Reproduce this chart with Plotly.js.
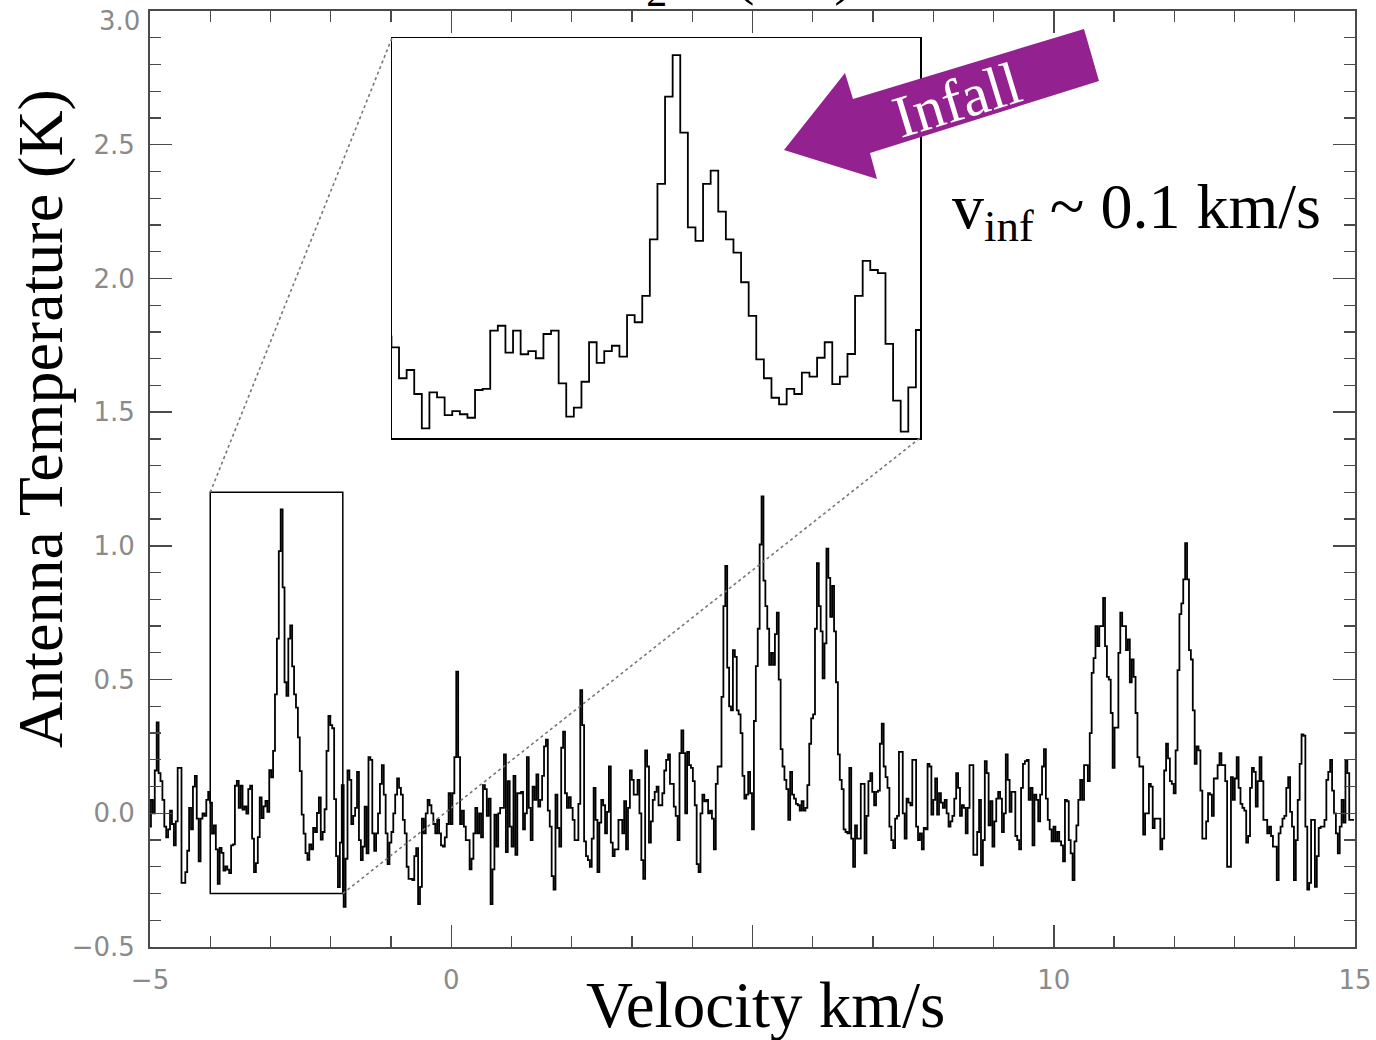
<!DOCTYPE html>
<html>
<head>
<meta charset="utf-8">
<script src="https://cdn.plot.ly/plotly-3.0.1.min.js"></script>
<style>html,body{margin:0;padding:0;background:#fff;}#chart{width:1376px;height:1040px;}</style>
</head>
<body>
<div id="chart"></div>
<script>
// ---- spectral axis (channel grid) ----
const v0 = -5.0;       // velocity of first channel (km/s)
const dv = 0.03167;    // channel width (km/s)

// ---- antenna temperature (K), read channel by channel from the figure ----
const taSeg1 = [-0.05,0.05,0.0,0.16,0.34,0.15,0.12,0.05,-0.05,-0.09,-0.06,0.01,-0.04,-0.12,-0.03,
  0.17,0.17,-0.26,-0.26,-0.22,-0.14,0.02,-0.06,0.10,0.14,-0.02,-0.18,-0.02,0.0,-0.01,0.05,0.08];
const taSeg2 = [0.04,-0.076,-0.045,-0.135,-0.264,-0.129,-0.148,-0.214,-0.199,-0.211,
  -0.224,-0.12,-0.116,0.103,0.121,0.02,0.103,0.014,0.026,-0.001,
  0.09,0.103,-0.095,-0.22,-0.186,-0.089,0.059,-0.018,0.026,0.046,
  0.005,0.161,0.134,0.233,0.445,0.653,0.98,1.136,0.845,0.49,
  0.439,0.653,0.703,0.549,0.445,0.395,0.284,0.158,-0.005,-0.076,
  -0.149,-0.174,-0.116,-0.135,-0.055,-0.07,0.001,0.059,-0.098,-0.07,
  0.015,0.233,0.364,0.33,0.318,0.053,-0.16,-0.276,-0.11,0.105];
const taSeg3 = [-0.35,-0.17,0.16,0.125,-0.04,-0.01,0.02,0.155,-0.10,-0.175,
  -0.125,0.025,-0.15,0.21,0.20,-0.075,-0.14,-0.075,0,0.11,
  0.18,0.07,-0.075,-0.19,-0.11,-0.07,0,0.07,0.13,0.095,
  0.07,-0.025,-0.075,-0.2,-0.245,-0.245,-0.25,-0.16,-0.13,-0.34,
  -0.275,-0.02,-0.075,0,0.05,0.03,0,-0.04,-0.075,-0.025,
  -0.075,-0.12,-0.125,-0.09,-0.04,0.075,-0.04,0.075,0.21,0.53,
  0.21,-0.04,0.01,-0.05,-0.10,-0.10,-0.21,-0.17,-0.075,0.02,
  -0.075,0,-0.09,0.105,0.09,-0.01,0.055,-0.34,-0.21,-0.005,
  -0.125,0,0.02,0.02,0.22,-0.145,0.12,-0.05,-0.125,0.14,
  -0.155,0.075,0.075,0.08,-0.06,0,0.21,0.02,-0.10,0.10,
  0.05,0.145,0.025];
const taSeg4 = [0.05,0.14,0.25,0.275,0.01,-0.05,-0.235,-0.285,0.07,-0.055,
  -0.125,0.245,0.305,0.075,0.02,0.06,0.02,-0.025,-0.10,-0.10,
  0.035,0.46,0.33,-0.105,-0.16,-0.175,-0.20,-0.095,0.095,
  -0.025,-0.22,-0.035,0.05,0.03,-0.075,0.005,0.175,-0.11,-0.16,
  -0.135,-0.135,-0.025,-0.025,-0.075,0.045,-0.135,0.02,0.16,0.125,
  0.07,0.07,0.125,0,-0.175,-0.245,0.235,0.175,-0.11,
  -0.03,0.05,0.08,0.10,0.03,0.03,0.075,0.16,0.20,0.22,
  0.11,0.11,0.025,-0.01,-0.10,0.225,0.31,0.225,0,
  0.23,0.18,0.17,0.12,0.03,-0.19,-0.22,0,0.07,0.045,
  0.05,0,0.01,-0.02,-0.135,0.11,0.175,0.175,0.435,0.775,
  0.925,0.545,0.40,0.385,0.61,0.585,0.385,0.37];
const taSeg5 = [0.30,0.14,0.055,0.07,0.155,0.075,-0.06,0.345,0.55,0.69,
  1.005,1.185,0.87,0.775,0.69,0.555,0.6,0.555,0.67,0.75,
  0.5,0.24,0.175,0.125,0.09,-0.025,0.155,0.07,0.055,
  0.035,0.03,0.01,0.045,0.01,0.02,0.105,0.26,0.355,0.37,
  0.69,0.935,0.775,0.68,0.505,0.635,0.99,0.88,0.735,0.85,
  0.68,0.49,0.22,0.125,0.09,-0.06,-0.07,-0.075,0.17,
  -0.095,-0.20,-0.045,-0.095,-0.095,0.11,0.11,-0.15,-0.01,0.12,
  0.15,0.08,0.03,0.08,0.085,0.26,0.335,0.175,0.135,0.095,
  -0.05,-0.10,-0.13,-0.02,-0.01,0.23,0.23,0,-0.095,
  0.055,0.04,0.03,0.2,0.2,-0.05,-0.10,-0.075,-0.135,-0.055,
  -0.06,0.185,0.175,-0.005,0.05,0.13,-0.005,0.075];
const taSeg6 = [0.04,0.02,0.05,0,-0.05,-0.03,-0.01,0.055,0.15,0.095,
  -0.01,0.03,0.02,-0.075,0.02,0.18,0.18,-0.155,-0.155,
  -0.07,0.05,-0.195,-0.10,0.195,0.15,-0.045,0.045,-0.125,-0.03,
  0.055,0.08,0.055,-0.07,0,0.22,0.125,0.005,0.08,
  0.08,-0.085,-0.10,-0.135,0.095,0.185,0.195,0.20,0.05,0.095,
  -0.12,0.07,0.05,-0.03,0.07,0.175,0.24,0.055,-0.025,-0.06,
  -0.105,-0.05,-0.105,-0.07,-0.105,-0.12,-0.18,0.05,0.045,-0.10,
  -0.15,-0.25,-0.105,-0.045,0.05,0.125,0.05,0.18,0.18,
  0.12,0.30,0.525,0.58,0.70,0.625,0.70,0.70,0.805,0.625,
  0.51,0.50,0.375,0.17,0.32,0.32,0.60,0.75,0.70,0.70,
  0.61,0.65,0.49,0.575,0.51,0.375,0.21,0.175];
const taSeg7 = [0.175,-0.08,0,0,0.11,0.10,-0.055,-0.02,-0.02,-0.02,
  -0.135,-0.095,0.16,0.26,0.205,0.12,0.11,0.075,0.235,0.535,
  0.745,0.785,0.875,1.01,0.875,0.61,0.575,0.385,0.185,0.25,
  0.235,0.085,-0.095,-0.095,-0.03,0.075,0.07,-0.01,0.13,0.13,
  0.18,0.225,0.18,0.18,0.12,-0.20,-0.20,0.135,0.05,0.13,
  0.21,0.095,0.035,0.02,0.01,-0.11,-0.085,0.095,0.17,
  0.155,0.025,0.12,0.21,0.12,-0.025,-0.025,-0.075,-0.05,
  -0.085,-0.125,-0.125,-0.25,-0.075,-0.05,-0.02,-0.01,0.095,0.135,
  0.005,-0.05,-0.25,-0.10,0.05,0.185,0.295,0.29,-0.05,-0.285,
  -0.26,-0.025,-0.025,-0.275,-0.16,-0.055,-0.05,-0.05,-0.025,
  0.125,0.155,0.20,0.085,0,-0.075,-0.15,-0.05,0.05,-0.035,
  0.20,0.15,-0.025,-0.025,-0.025];

const ta = [].concat(taSeg1, taSeg2, taSeg3, taSeg4, taSeg5, taSeg6, taSeg7);
const vel = ta.map((_, i) => +(v0 + i * dv).toFixed(4));

// ---- axis settings ----
const xRange = [-5, 15];
const yRange = [-0.5, 3.0];
const xTickVals = [-5, 0, 5, 10, 15];
const xTickText = ['\u22125', '0', '', '10', '15'];
const yTickVals = [-0.5, 0, 0.5, 1.0, 1.5, 2.0, 2.5, 3.0];
const yTickText = ['\u22120.5', '0.0', '0.5', '1.0', '1.5', '2.0', '2.5', ''];
const yTopLabel = '3.0';      // top label, drawn just inside the page edge
const zoomX = [-4, -1.8];     // zoomed window (km/s)
const zoomY = [-0.3, 1.2];    // zoomed window (K)

// ---- page geometry (pixels) ----
const W = 1376, H = 1040;
const M = {l: 150, r: 21, t: 11, b: 93};
const PW = W - M.l - M.r, PH = H - M.t - M.b;
const insetPx = {left: 392, right: 920, top: 38, bottom: 438};
const px2x = p => (p - M.l) / PW;
const py2y = p => (M.t + PH - p) / PH;
const d2px = x => (x - xRange[0]) / (xRange[1] - xRange[0]);
const d2py = y => (y - yRange[0]) / (yRange[1] - yRange[0]);

const insetDomX = [px2x(insetPx.left), px2x(insetPx.right)];
const insetDomY = [py2y(insetPx.bottom), py2y(insetPx.top)];

// arrow outline (pixels)
const arrowPts = [[784,150],[845,73],[853,99],[1084,29],[1099,81],[870,153],[877,179]];
const arrowPath = arrowPts.map((p, i) => (i ? 'L' : 'M') + px2x(p[0]).toFixed(5) + ',' + py2y(p[1]).toFixed(5)).join(' ') + ' Z';

const tickFont = {family: 'DejaVu Sans', size: 26, color: '#8a8a8a'};
const serif = 'Liberation Serif, Times New Roman, serif';

const traces = [
  {x: vel, y: ta, type: 'scatter', mode: 'lines', xaxis: 'x', yaxis: 'y',
   line: {shape: 'hvh', color: '#000', width: 1.8}, hoverinfo: 'skip'},
  {x: vel, y: ta, type: 'scatter', mode: 'lines', xaxis: 'x2', yaxis: 'y2',
   line: {shape: 'hvh', color: '#000', width: 1.8}, hoverinfo: 'skip'}
];

const axLine = '#4a4a4a';
const layout = {
  width: W, height: H,
  margin: {l: M.l, r: M.r, t: M.t, b: M.b, pad: 0},
  paper_bgcolor: '#fff', plot_bgcolor: '#fff',
  showlegend: false,
  xaxis: {
    range: xRange, tickmode: 'array', tickvals: xTickVals, ticktext: xTickText,
    ticks: 'inside', ticklen: 22, tickwidth: 1.5, tickcolor: axLine,
    minor: {tickmode: 'linear', tick0: 0, dtick: 1, ticks: 'inside', ticklen: 11, tickwidth: 1.3, tickcolor: axLine},
    showline: true, mirror: 'allticks', linecolor: axLine, linewidth: 2,
    showgrid: false, zeroline: false, tickfont: tickFont, ticklabelstandoff: 9,
    ticklabeloverflow: 'allow'
  },
  yaxis: {
    range: yRange, tickmode: 'array', tickvals: yTickVals, ticktext: yTickText,
    ticks: 'inside', ticklen: 22, tickwidth: 1.5, tickcolor: axLine,
    minor: {tickmode: 'linear', tick0: 0, dtick: 0.1, ticks: 'inside', ticklen: 11, tickwidth: 1.3, tickcolor: axLine},
    showline: true, mirror: 'allticks', linecolor: axLine, linewidth: 2,
    showgrid: false, zeroline: false, tickfont: tickFont, ticklabelstandoff: 8,
    ticklabeloverflow: 'allow'
  },
  xaxis2: {domain: insetDomX, anchor: 'y2', range: zoomX, showline: true, mirror: true,
    linecolor: '#000', linewidth: 1.5, ticks: '', showticklabels: false, showgrid: false, zeroline: false},
  yaxis2: {domain: insetDomY, anchor: 'x2', range: zoomY, showline: true, mirror: true,
    linecolor: '#000', linewidth: 1.5, ticks: '', showticklabels: false, showgrid: false, zeroline: false},
  shapes: [
    {type: 'rect', xref: 'x', yref: 'y', x0: zoomX[0], x1: zoomX[1], y0: zoomY[0], y1: zoomY[1],
     line: {color: '#000', width: 1.5}},
    {type: 'line', xref: 'paper', yref: 'paper', x0: d2px(zoomX[0]), y0: d2py(zoomY[1]), x1: insetDomX[0], y1: insetDomY[1],
     line: {color: '#777', width: 1.6, dash: 'dot'}},
    {type: 'line', xref: 'paper', yref: 'paper', x0: d2px(zoomX[1]), y0: d2py(zoomY[0]), x1: insetDomX[1], y1: insetDomY[0],
     line: {color: '#777', width: 1.6, dash: 'dot'}},
    {type: 'path', xref: 'paper', yref: 'paper', path: arrowPath, fillcolor: '#93218f', line: {width: 0}}
  ],
  annotations: [
    {xref: 'paper', yref: 'paper', x: px2x(142), y: py2y(21), text: yTopLabel, showarrow: false,
     xanchor: 'right', yanchor: 'middle', font: tickFont},
    {xref: 'paper', yref: 'paper', x: px2x(957), y: py2y(100), text: 'Infall', showarrow: false,
     textangle: -17, xanchor: 'center', yanchor: 'middle', font: {family: serif, size: 60, color: '#fff'}},
    {xref: 'paper', yref: 'paper', x: px2x(950), y: py2y(211), text: 'v<sub>inf</sub> ~ 0.1 km/s', showarrow: false,
     xanchor: 'left', yanchor: 'middle', font: {family: serif, size: 64, color: '#000'}},
    {xref: 'paper', yref: 'paper', x: px2x(40), y: py2y(419), text: 'Antenna Temperature (K)', showarrow: false,
     textangle: -90, xanchor: 'center', yanchor: 'middle', font: {family: serif, size: 64, color: '#000'}},
    {xref: 'paper', yref: 'paper', x: px2x(765), y: py2y(1005), text: 'Velocity km/s', showarrow: false,
     xanchor: 'center', yanchor: 'middle', font: {family: serif, size: 65, color: '#000'}},
    {xref: 'paper', yref: 'paper', x: px2x(601), y: py2y(17), text: 'N<sub>2</sub>H<sup>+</sup>(1-0)', showarrow: false,
     xanchor: 'left', yanchor: 'bottom', font: {family: serif, size: 60, color: '#000'}}
  ]
};

Plotly.newPlot('chart', traces, layout, {staticPlot: true, displayModeBar: false});
</script>
</body>
</html>
